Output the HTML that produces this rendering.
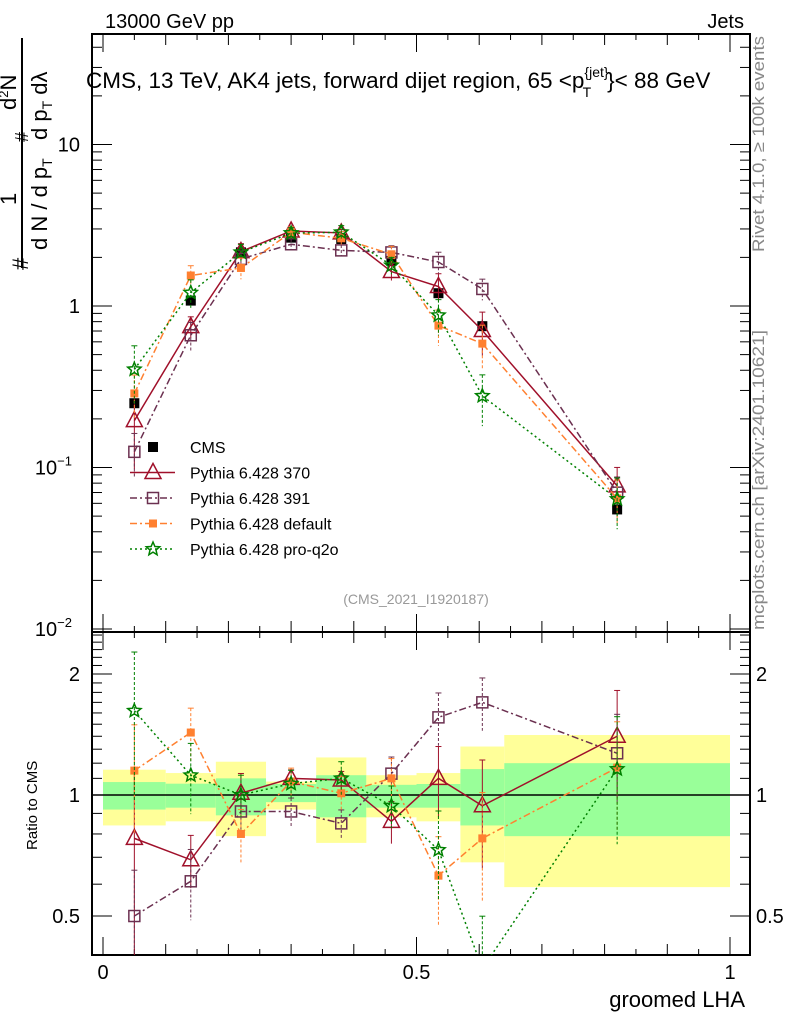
<!DOCTYPE html>
<html><head><meta charset="utf-8"><style>
html,body{margin:0;padding:0;background:#fff}
svg{display:block;font-family:"Liberation Sans",sans-serif}
</style></head><body>
<svg id="c" width="786" height="1024" viewBox="0 0 786 1024" xmlns="http://www.w3.org/2000/svg">
<g id="bands"></g>
<g id="axes"></g>
<g id="series"></g>
<text x="105" y="28" font-size="20">13000 GeV pp</text>
<text x="744" y="28" font-size="20" text-anchor="end">Jets</text>
<text x="86" y="88" font-size="22.5">CMS, 13 TeV, AK4 jets, forward dijet region, 65 &lt;p<tspan font-size="14" dy="-11">{jet}</tspan><tspan font-size="14" dx="-26" dy="20">T</tspan><tspan dy="-9" dx="16">}&lt; 88 GeV</tspan></text>
<text transform="translate(764,252) rotate(-90)" font-size="17" fill="#888" textLength="216" lengthAdjust="spacingAndGlyphs">Rivet 4.1.0, ≥ 100k events</text>
<text transform="translate(764,630) rotate(-90)" font-size="17" fill="#888" textLength="300" lengthAdjust="spacingAndGlyphs">mcplots.cern.ch [arXiv:2401.10621]</text>
<text x="416" y="604" font-size="14" fill="#999" text-anchor="middle">(CMS_2021_I1920187)</text>
<g font-size="22">
<line x1="22" y1="38" x2="22" y2="268" stroke="#000" stroke-width="2"/>
<text transform="translate(28,270) rotate(-90)">#</text>
<text transform="translate(16,205) rotate(-90)">1</text>
<text transform="translate(47,250) rotate(-90)">d N / d p<tspan font-size="14" dy="5">T</tspan></text>
<text transform="translate(16,110) rotate(-90)">d<tspan font-size="13" dy="-8">2</tspan><tspan dy="8">N</tspan></text>
<text transform="translate(28,142) rotate(-90)" font-size="18">#</text>
<text transform="translate(47,140) rotate(-90)">d p<tspan font-size="14" dy="5">T</tspan><tspan dy="-5"> dλ</tspan></text>
</g>
<text transform="translate(37,850) rotate(-90)" font-size="15">Ratio to CMS</text>
<text x="745" y="1007" font-size="22" text-anchor="end">groomed LHA</text>
<g id="legend"></g>
</svg>
<script>
const xCenters=[0.05,0.14,0.22,0.30,0.38,0.46,0.535,0.605,0.82];
const binEdges=[0,0.1,0.18,0.26,0.34,0.42,0.5,0.57,0.64,1.0];
const cmsValues=[0.25,1.08,2.15,2.65,2.6,1.9,1.2,0.75,0.055];
const cmsErrRel=[0.05,0.04,0.04,0.04,0.04,0.05,0.06,0.1,0.1];
const yellowHi=[1.156,1.134,1.21,1.08,1.24,1.12,1.134,1.32,1.41];
const yellowLo=[0.84,0.86,0.79,0.92,0.76,0.88,0.86,0.68,0.59];
const greenHi=[1.077,1.067,1.10,1.065,1.12,1.06,1.065,1.16,1.20];
const greenLo=[0.92,0.93,0.89,0.96,0.88,0.93,0.93,0.84,0.79];
const ratio370=[0.78,0.69,1.01,1.10,1.09,0.86,1.10,0.94,1.40];
const ratio391=[0.50,0.61,0.91,0.91,0.85,1.13,1.56,1.70,1.27];
const ratioDefault=[1.15,1.43,0.80,1.08,1.01,1.10,0.63,0.78,1.17];
const ratioProq2o=[1.62,1.12,1.0,1.067,1.10,0.94,0.73,0.37,1.16];
const err370=[0.5,0.15,0.12,0.05,0.05,0.12,0.2,0.3,0.3];
const err391=[0.3,0.2,0.12,0.08,0.08,0.1,0.15,0.15,0.25];
const errDefault=[0.3,0.15,0.15,0.08,0.1,0.12,0.25,0.3,0.3];
const errProq2o=[0.4,0.2,0.12,0.08,0.1,0.12,0.25,0.35,0.35];
const legendLabels=["CMS","Pythia 6.428 370","Pythia 6.428 391","Pythia 6.428 default","Pythia 6.428 pro-q2o"];

const NS="http://www.w3.org/2000/svg";
const X0=92,X1=750,Y0=34,YM=632,Y1=955;
function xs(v){return 103+627*v;}
function ym(v){return 306-161.5*Math.log10(v);}
function yr(v){return 795-402*Math.log10(v);}
function mk(tag,attrs,parent){const e=document.createElementNS(NS,tag);for(const k in attrs)e.setAttribute(k,attrs[k]);parent.appendChild(e);return e;}
const axes=document.getElementById('axes'),bands=document.getElementById('bands'),ser=document.getElementById('series'),leg=document.getElementById('legend');

for(let i=0;i<xCenters.length;i++){
  const a=xs(binEdges[i]),b=xs(binEdges[i+1]);
  let r=mk('rect',{x:a,y:yr(yellowHi[i]),width:b-a,height:yr(yellowLo[i])-yr(yellowHi[i]),fill:'#ffff99'},bands);
  
  
  r=mk('rect',{x:a,y:yr(greenHi[i]),width:b-a,height:yr(greenLo[i])-yr(greenHi[i]),fill:'#99ff99'},bands);
  
  
}
mk('rect',{x:X0,y:Y0,width:X1-X0,height:YM-Y0,fill:'none',stroke:'#000','stroke-width':2},axes);
mk('rect',{x:X0,y:YM,width:X1-X0,height:Y1-YM,fill:'none',stroke:'#000','stroke-width':2},axes);
mk('line',{x1:X0,x2:X1,y1:yr(1),y2:yr(1),stroke:'#000','stroke-width':1.5},axes);
for(let k=0;k<=20;k++){const v=k*0.05,x=xs(v);const L=(k%10==0)?18:(k%2==0?11:6);
  mk('line',{x1:x,x2:x,y1:Y0,y2:Y0+L,stroke:'#000'},axes);
  mk('line',{x1:x,x2:x,y1:YM,y2:YM-L,stroke:'#000'},axes);
  mk('line',{x1:x,x2:x,y1:YM,y2:YM+L,stroke:'#000'},axes);
  mk('line',{x1:x,x2:x,y1:Y1,y2:Y1-L,stroke:'#000'},axes);}
const xt=[[0,"0"],[0.5,"0.5"],[1,"1"]];
xt.forEach(t=>{const e=mk('text',{x:xs(t[0]),y:979,'font-size':20,'text-anchor':'middle'},axes);e.textContent=t[1];
  
  });
for(let d=-2;d<=1;d++){for(let m=1;m<=9;m++){const v=m*Math.pow(10,d),y=ym(v);if(y<Y0||y>YM)continue;const L=m==1?20:10;
  mk('line',{x1:X0,x2:X0+L,y1:y,y2:y,stroke:'#000'},axes);mk('line',{x1:X1,x2:X1-L,y1:y,y2:y,stroke:'#000'},axes);}}
const ylab=[[10,"10",""],[1,"1",""],[0.1,"10","−1"],[0.01,"10","−2"]];
ylab.forEach(t=>{const e=mk('text',{x:t[2]?72:80,y:ym(t[0])+7,'font-size':20,'text-anchor':'end'},axes);e.textContent=t[1];
  if(t[2]){const s=mk('tspan',{'font-size':13,dy:-9},e);s.textContent=t[2];}
  
  });
for(let v=0.4;v<=2.55;v+=0.1){const y=yr(v);if(y<YM||y>Y1)continue;const maj=Math.abs(v-0.5)<1e-6||Math.abs(v-1)<1e-6||Math.abs(v-2)<1e-6;const L=maj?20:10;
  mk('line',{x1:X0,x2:X0+L,y1:y,y2:y,stroke:'#000'},axes);mk('line',{x1:X1,x2:X1-L,y1:y,y2:y,stroke:'#000'},axes);}
[[2,"2"],[1,"1"],[0.5,"0.5"]].forEach(t=>{
  let e=mk('text',{x:80,y:yr(t[0])+7,'font-size':20,'text-anchor':'end'},axes);e.textContent=t[1];
  
  
  e=mk('text',{x:756,y:yr(t[0])+7,'font-size':20},axes);e.textContent=t[1];
  
  });

const defs=mk('defs',{},document.getElementById('c'));
const cm=mk('clipPath',{id:'cm'},defs);mk('rect',{x:X0,y:Y0,width:X1-X0,height:YM-Y0},cm);
const cr=mk('clipPath',{id:'cr'},defs);mk('rect',{x:X0,y:YM,width:X1-X0,height:Y1-YM},cr);

function star(cx,cy,r){let p=[];for(let i=0;i<10;i++){const a=-Math.PI/2+i*Math.PI/5,rr=i%2?r*0.45:r;p.push((cx+rr*Math.cos(a)).toFixed(1)+','+(cy+rr*Math.sin(a)).toFixed(1));}return p.join(' ');}
function marker(g,type,x,y,col){
  if(type=='sqf')mk('rect',{x:x-5,y:y-5,width:10,height:10,fill:col},g);
  else if(type=='sqo')mk('rect',{x:x-5.5,y:y-5.5,width:11,height:11,fill:'none',stroke:col,'stroke-width':1.5},g);
  else if(type=='tri')mk('polygon',{points:`${x},${y-9} ${x-8},${y+6} ${x+8},${y+6}`,fill:'none',stroke:col,'stroke-width':1.5},g);
  else if(type=='osq')mk('rect',{x:x-4,y:y-4,width:8,height:8,fill:col},g);
  else if(type=='star')mk('polygon',{points:star(x,y,7),fill:'none',stroke:col,'stroke-width':1.5},g);
}
const defsS=[
 {name:'pythia-370',r:ratio370,e:err370,col:'#a0102a',dash:'',m:'tri'},
 {name:'pythia-391',r:ratio391,e:err391,col:'#6b3050',dash:'7,3,2,3',m:'sqo'},
 {name:'pythia-default',r:ratioDefault,e:errDefault,col:'#ff8030',dash:'7,3,2,3',m:'osq'},
 {name:'pythia-pro-q2o',r:ratioProq2o,e:errProq2o,col:'#008000',dash:'2,3',m:'star'}
];
{const g=mk('g',{'clip-path':'url(#cm)'},ser);
 xCenters.forEach((c,i)=>{const x=xs(c),v=cmsValues[i];mk('line',{x1:x,x2:x,y1:ym(v*(1+cmsErrRel[i])),y2:ym(v*(1-cmsErrRel[i])),stroke:'#000'},g);marker(g,'sqf',x,ym(v),'#000');});}
defsS.forEach(s=>{
  [['m',ym,'cm'],['r',yr,'cr']].forEach(p=>{
    const g=mk('g',{'clip-path':`url(#${p[2]})`},ser);
    
    
    const val=i=>p[0]=='m'?s.r[i]*cmsValues[i]:s.r[i];
    const pts=xCenters.map((c,i)=>xs(c)+','+p[1](val(i))).join(' ');
    mk('polyline',{points:pts,fill:'none',stroke:s.col,'stroke-width':1.5,'stroke-dasharray':s.dash},g);
    xCenters.forEach((c,i)=>{const x=xs(c),v=val(i),e=s.e[i];
      mk('line',{x1:x,x2:x,y1:p[1](v*(1+e)),y2:p[1](v*Math.max(0.05,1-e)),stroke:s.col,'stroke-dasharray':s.dash?'3,2':''},g);
      mk('line',{x1:x-3,x2:x+3,y1:p[1](v*(1+e)),y2:p[1](v*(1+e)),stroke:s.col},g);
      marker(g,s.m,x,p[1](v),s.col);});
  });
});
const legTypes=[['sqf','#000',''],['tri','#a0102a',''],['sqo','#6b3050','7,3,2,3'],['osq','#ff8030','7,3,2,3'],['star','#008000','2,3']];
legendLabels.forEach((t,i)=>{const y=447+i*25.5;const g=mk('g',{},leg);
  
  
  if(i>0)mk('line',{x1:130,x2:175,y1:y,y2:y,stroke:legTypes[i][1],'stroke-width':1.5,'stroke-dasharray':legTypes[i][2]},g);
  marker(g,legTypes[i][0],153,y,legTypes[i][1]);
  const e=mk('text',{x:190,y:y+6,'font-size':16},g);e.textContent=t;});
</script>
</body></html>
